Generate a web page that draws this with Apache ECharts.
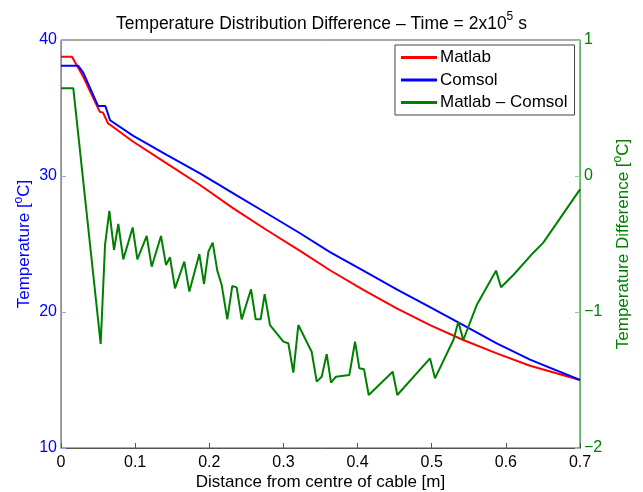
<!DOCTYPE html>
<html>
<head>
<meta charset="utf-8">
<script src="https://cdn.jsdelivr.net/npm/echarts@6/dist/echarts.min.js"></script>
<style>
html,body{margin:0;padding:0;background:#fff;}
#chart{width:643px;height:492px;}
</style>
</head>
<body>
<div id="chart"></div>
<script>
// ---- data ----
const xTicks = [0, 0.1, 0.2, 0.3, 0.4, 0.5, 0.6, 0.7];
const leftTicks = [10, 20, 30, 40];
const rightTicks = [-2, -1, 0, 1];

const matlabX = [0, 0.0148, 0.030, 0.0522, 0.0567, 0.0634, 0.0667, 0.0975, 0.1425, 0.1875, 0.2324, 0.2774, 0.3224, 0.3628, 0.4078, 0.4528, 0.4977, 0.5426, 0.5877, 0.6326, 0.7];
const matlabY = [38.77, 38.77, 37.3, 34.73, 34.66, 33.87, 33.75, 32.52, 30.93, 29.34, 27.62, 26.03, 24.5, 23.07, 21.62, 20.27, 19.04, 17.94, 16.96, 16.05, 15.0];

const comsolX = [0, 0.023, 0.030, 0.0499, 0.0598, 0.0662, 0.0975, 0.1425, 0.1875, 0.2324, 0.2774, 0.3224, 0.3628, 0.4078, 0.4528, 0.4977, 0.5426, 0.5877, 0.6326, 0.7];
const comsolY = [38.11, 38.11, 37.6, 35.15, 35.15, 34.1, 32.95, 31.56, 30.2, 28.73, 27.26, 25.79, 24.4, 23.04, 21.67, 20.35, 19.04, 17.7, 16.5, 15.0];

const diffX = [0, 0.0166, 0.0535, 0.0594, 0.0652, 0.0715, 0.0773, 0.084, 0.0967, 0.103, 0.1156, 0.1223, 0.1349, 0.1416, 0.147, 0.1538, 0.1663, 0.1731, 0.1866, 0.1929, 0.1988, 0.2046, 0.2108, 0.2167, 0.2243, 0.231, 0.2369, 0.2437, 0.2563, 0.2626, 0.2693, 0.2747, 0.2819, 0.2999, 0.3066, 0.3134, 0.3201, 0.3381, 0.3449, 0.3516, 0.3584, 0.3642, 0.3709, 0.3889, 0.3966, 0.4024, 0.4087, 0.415, 0.4474, 0.4536, 0.4977, 0.5044, 0.5292, 0.5359, 0.5426, 0.5607, 0.5867, 0.5935, 0.6101, 0.637, 0.6505, 0.7];
const diffY = [0.645, 0.645, -1.235, -0.507, -0.257, -0.544, -0.353, -0.613, -0.378, -0.613, -0.441, -0.667, -0.441, -0.654, -0.598, -0.826, -0.630, -0.850, -0.574, -0.794, -0.556, -0.490, -0.696, -0.801, -1.054, -0.809, -0.819, -1.054, -0.833, -1.054, -1.054, -0.868, -1.096, -1.218, -1.230, -1.446, -1.096, -1.292, -1.512, -1.476, -1.309, -1.520, -1.476, -1.463, -1.218, -1.414, -1.421, -1.610, -1.439, -1.610, -1.341, -1.488, -1.206, -1.071, -1.206, -0.949, -0.696, -0.818, -0.728, -0.564, -0.490, -0.098];

const seriesNames = ['Matlab', 'Comsol', 'Matlab \u2013 Comsol'];
const titleMain = 'Temperature Distribution Difference \u2013 Time = 2x10';
const titleSup = '5';
const titleEnd = ' s';
const xName = 'Distance from centre of cable [m]';
const leftName = ['Temperature [', 'o', 'C]'];
const rightName = ['Temperature Difference [', 'o', 'C]'];

// ---- build ----
const pairs = (xs, ys) => xs.map((x, i) => [x, ys[i]]);
const FONT = '"Liberation Sans", Arial, sans-serif';
const BLUE = '#0000ff', RED = '#ff0000', GREEN = '#008000';
const minus = v => String(v).replace('-', '\u2212');

const chart = echarts.init(document.getElementById('chart'), null, {renderer: 'canvas'});
chart.setOption({
  animation: false,
  backgroundColor: '#ffffff',
  textStyle: {fontFamily: FONT},
  title: {
    text: '{a|' + titleMain + '}{s|' + titleSup + '}{a|' + titleEnd + '}',
    left: 'center',
    top: 6,
    textStyle: {
      fontWeight: 'normal',
      rich: {
        a: {fontFamily: FONT, fontSize: 17.5, fontWeight: 'normal', color: '#000', verticalAlign: 'bottom', lineHeight: 22},
        s: {fontFamily: FONT, fontSize: 12, fontWeight: 'normal', color: '#000', verticalAlign: 'top', lineHeight: 22, padding: [0, 0, 10, 0]}
      }
    }
  },
  grid: {left: 61, right: 63, top: 40, bottom: 44, containLabel: false, outerBoundsMode: 'none', show: true, borderColor: '#555', borderWidth: 1},
  legend: {
    orient: 'vertical',
    left: 395, top: 45,
    backgroundColor: '#fff',
    borderColor: '#444', borderWidth: 1, borderRadius: 0,
    padding: [4, 7, 4, 6],
    itemWidth: 36, itemHeight: 3, itemGap: 5.5,
    icon: 'rect',
    textStyle: {fontFamily: FONT, fontSize: 17, color: '#000', padding: [0, 0, 0, -2]},
    data: seriesNames
  },
  xAxis: {
    type: 'value', min: 0, max: 0.7, interval: 0.1,
    name: xName, nameLocation: 'middle', nameGap: 26, nameMoveOverlap: false,
    nameTextStyle: {fontFamily: FONT, fontSize: 17, color: '#000'},
    axisLine: {show: true, onZero: false, lineStyle: {color: '#555', width: 1}},
    axisTick: {show: true, inside: true, length: 5, lineStyle: {color: '#555'}},
    axisLabel: {fontFamily: FONT, fontSize: 16, color: '#000', margin: 7, formatter: v => String(+v.toFixed(1))},
    splitLine: {show: false}
  },
  yAxis: [
    {
      type: 'value', min: 10, max: 40, interval: 10, position: 'left',
      name: '{a|' + leftName[0] + '}{s|' + leftName[1] + '}{a|' + leftName[2] + '}',
      nameLocation: 'middle', nameGap: 28, nameMoveOverlap: false,
      nameTextStyle: {rich: {
        a: {fontFamily: FONT, fontSize: 17, color: BLUE, verticalAlign: 'bottom', lineHeight: 20},
        s: {fontFamily: FONT, fontSize: 12, color: BLUE, verticalAlign: 'top', lineHeight: 20, padding: [0, 0, 8, 0]}
      }},
      axisLine: {show: true, onZero: false, lineStyle: {color: '#7f7fff', width: 1}},
      axisTick: {show: true, inside: true, length: 5, lineStyle: {color: '#9f9fff'}},
      axisLabel: {fontFamily: FONT, fontSize: 16, color: BLUE, margin: 4},
      splitLine: {show: false}
    },
    {
      type: 'value', min: -2, max: 1, interval: 1, position: 'right',
      name: '{a|' + rightName[0] + '}{s|' + rightName[1] + '}{a|' + rightName[2] + '}',
      nameLocation: 'middle', nameGap: 32, nameRotate: 90, nameMoveOverlap: false,
      nameTextStyle: {rich: {
        a: {fontFamily: FONT, fontSize: 17, color: GREEN, verticalAlign: 'bottom', lineHeight: 20},
        s: {fontFamily: FONT, fontSize: 12, color: GREEN, verticalAlign: 'top', lineHeight: 20, padding: [0, 0, 8, 0]}
      }},
      axisLine: {show: true, onZero: false, lineStyle: {color: '#66b266', width: 1}},
      axisTick: {show: true, inside: true, length: 5, lineStyle: {color: '#8fcc8f'}},
      axisLabel: {fontFamily: FONT, fontSize: 16, color: GREEN, margin: 4, formatter: v => minus(v)},
      splitLine: {show: false}
    }
  ],
  series: [
    {name: seriesNames[0], type: 'line', yAxisIndex: 0, data: pairs(matlabX, matlabY), showSymbol: false, symbol: 'none', lineStyle: {color: RED, width: 2}, itemStyle: {color: RED}, z: 2},
    {name: seriesNames[1], type: 'line', yAxisIndex: 0, data: pairs(comsolX, comsolY), showSymbol: false, symbol: 'none', lineStyle: {color: BLUE, width: 2}, itemStyle: {color: BLUE}, z: 3},
    {name: seriesNames[2], type: 'line', yAxisIndex: 1, data: pairs(diffX, diffY), showSymbol: false, symbol: 'none', lineStyle: {color: GREEN, width: 2}, itemStyle: {color: GREEN}, z: 4}
  ]
});
</script>
</body>
</html>
